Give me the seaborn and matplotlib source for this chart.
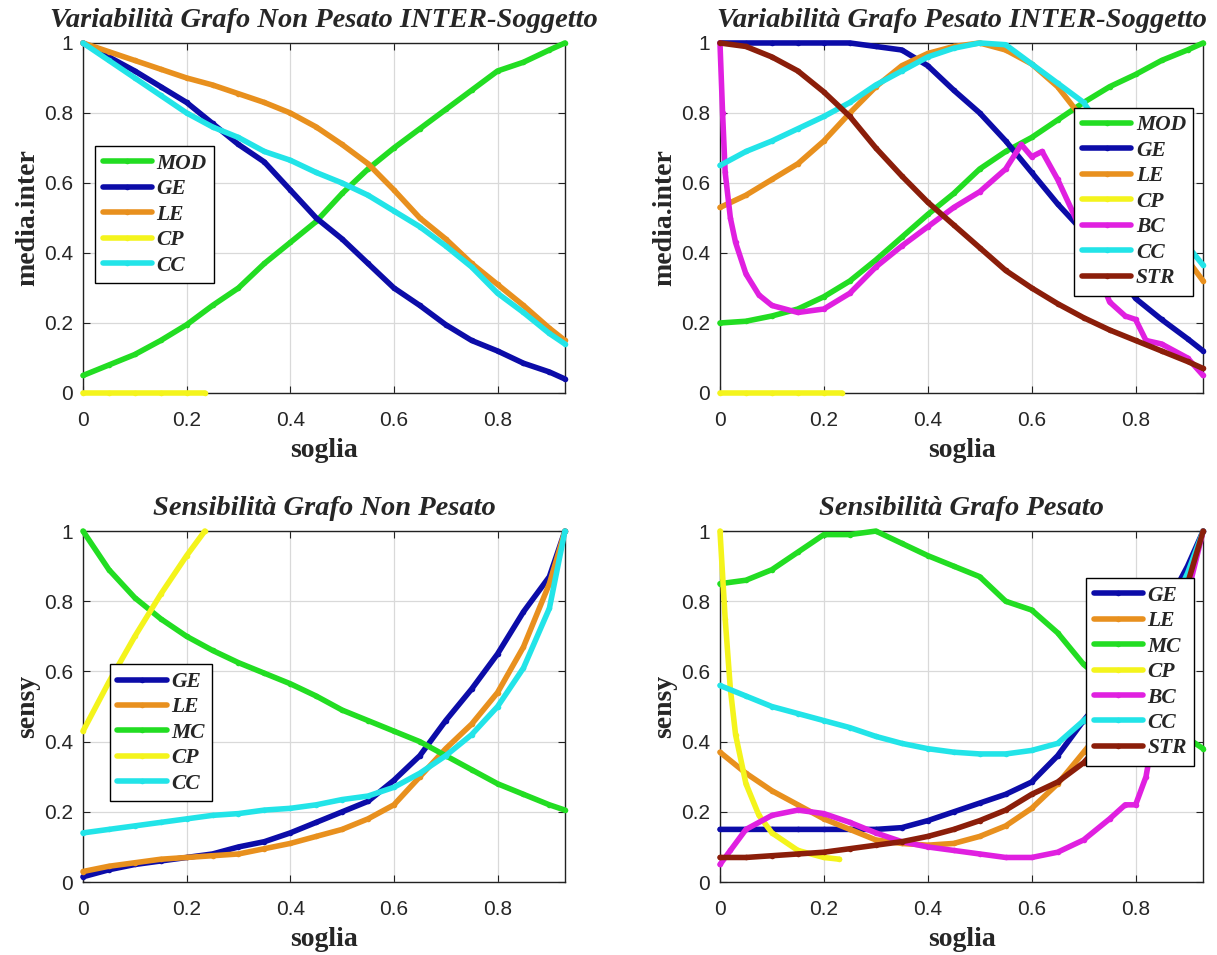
import numpy as np
import pandas as pd
import matplotlib
matplotlib.use("Agg")
import matplotlib.pyplot as plt
import seaborn as sns
from matplotlib.ticker import FuncFormatter

# ---------------- data ----------------
X = [0, .05, .1, .15, .2, .25, .3, .35, .4, .45, .5, .55, .6, .65, .7, .75, .8, .85, .9, .93]
CP_X = [0, .05, .1, .15, .2, .235]

# Top-left: Variabilità Grafo Non Pesato INTER-Soggetto
tl_mod = [0.05, 0.08, 0.11, 0.15, 0.195, 0.25, 0.30, 0.37, 0.43, 0.49, 0.57, 0.64, 0.70, 0.755, 0.81, 0.865, 0.92, 0.945, 0.98, 1.0]
tl_ge = [1.0, 0.96, 0.92, 0.875, 0.83, 0.77, 0.71, 0.66, 0.58, 0.50, 0.44, 0.37, 0.30, 0.25, 0.195, 0.15, 0.12, 0.085, 0.06, 0.04]
tl_le = [1.0, 0.975, 0.95, 0.925, 0.90, 0.88, 0.855, 0.83, 0.80, 0.76, 0.71, 0.655, 0.58, 0.50, 0.44, 0.37, 0.31, 0.25, 0.185, 0.15]
tl_cp = [0, 0, 0, 0, 0, 0]
tl_cc = [1.0, 0.95, 0.90, 0.85, 0.80, 0.76, 0.73, 0.69, 0.665, 0.63, 0.60, 0.565, 0.52, 0.475, 0.42, 0.36, 0.285, 0.23, 0.17, 0.14]

# Top-right: Variabilità Grafo Pesato INTER-Soggetto
tr_mod = [0.2, 0.205, 0.22, 0.24, 0.275, 0.32, 0.38, 0.445, 0.51, 0.57, 0.64, 0.69, 0.73, 0.78, 0.83, 0.875, 0.91, 0.95, 0.98, 1.0]
tr_ge = [1.0, 1.0, 1.0, 1.0, 1.0, 1.0, 0.99, 0.98, 0.935, 0.865, 0.80, 0.72, 0.63, 0.54, 0.46, 0.38, 0.27, 0.21, 0.155, 0.12]
tr_le = [0.53, 0.565, 0.61, 0.655, 0.72, 0.80, 0.875, 0.935, 0.97, 0.99, 1.0, 0.98, 0.94, 0.875, 0.78, 0.68, 0.58, 0.49, 0.38, 0.32]
tr_cp = [0, 0, 0, 0, 0, 0]
BC_TR_X = [0, .005, .01, .02, .03, .05, .075, .1, .15, .2, .25, .3, .35, .4, .45, .5, .55, .58, .6, .62, .65, .7, .75, .78, .8, .82, .85, .9, .93]
tr_bc = [1.0, 0.8, 0.63, 0.5, 0.43, 0.34, 0.28, 0.25, 0.23, 0.24, 0.285, 0.36, 0.42, 0.475, 0.53, 0.575, 0.64, 0.71, 0.675, 0.69, 0.61, 0.45, 0.26, 0.22, 0.21, 0.15, 0.14, 0.10, 0.05]
tr_cc = [0.65, 0.69, 0.72, 0.755, 0.79, 0.83, 0.88, 0.92, 0.96, 0.985, 1.0, 0.995, 0.94, 0.885, 0.83, 0.72, 0.62, 0.52, 0.42, 0.365]
tr_str = [1.0, 0.99, 0.96, 0.92, 0.86, 0.79, 0.70, 0.62, 0.545, 0.48, 0.415, 0.35, 0.30, 0.255, 0.215, 0.18, 0.15, 0.12, 0.09, 0.07]

# Bottom-left: Sensibilità Grafo Non Pesato
bl_ge = [0.015, 0.035, 0.05, 0.06, 0.07, 0.08, 0.10, 0.115, 0.14, 0.17, 0.20, 0.23, 0.29, 0.36, 0.46, 0.55, 0.65, 0.77, 0.87, 1.0]
bl_le = [0.03, 0.045, 0.055, 0.065, 0.07, 0.075, 0.08, 0.095, 0.11, 0.13, 0.15, 0.18, 0.22, 0.30, 0.38, 0.45, 0.54, 0.67, 0.85, 1.0]
bl_mc = [1.0, 0.89, 0.81, 0.75, 0.70, 0.66, 0.625, 0.595, 0.565, 0.53, 0.49, 0.46, 0.43, 0.40, 0.36, 0.32, 0.28, 0.25, 0.22, 0.205]
bl_cp = [0.43, 0.57, 0.70, 0.82, 0.93, 1.0]
bl_cc = [0.14, 0.15, 0.16, 0.17, 0.18, 0.19, 0.195, 0.205, 0.21, 0.22, 0.235, 0.245, 0.27, 0.31, 0.36, 0.42, 0.50, 0.61, 0.78, 1.0]

# Bottom-right: Sensibilità Grafo Pesato
br_ge = [0.15, 0.15, 0.15, 0.15, 0.15, 0.15, 0.15, 0.155, 0.175, 0.20, 0.225, 0.25, 0.285, 0.36, 0.46, 0.55, 0.65, 0.76, 0.9, 1.0]
br_le = [0.37, 0.31, 0.26, 0.22, 0.18, 0.15, 0.12, 0.11, 0.105, 0.11, 0.13, 0.16, 0.21, 0.28, 0.37, 0.46, 0.56, 0.68, 0.85, 1.0]
br_mc = [0.85, 0.86, 0.89, 0.94, 0.99, 0.99, 1.0, 0.965, 0.93, 0.90, 0.87, 0.80, 0.775, 0.71, 0.62, 0.56, 0.5, 0.45, 0.41, 0.38]
CP_BR_X = [0, .01, .02, .03, .05, .075, .1, .15, .2, .23]
br_cp = [1.0, 0.75, 0.55, 0.42, 0.28, 0.19, 0.14, 0.09, 0.07, 0.065]
BC_BR_X = [0, .02, .05, .1, .15, .2, .25, .3, .35, .4, .45, .5, .55, .6, .65, .7, .75, .78, .8, .82, .85, .9, .93]
br_bc = [0.05, 0.09, 0.15, 0.19, 0.205, 0.195, 0.17, 0.14, 0.115, 0.10, 0.09, 0.08, 0.07, 0.07, 0.085, 0.12, 0.18, 0.22, 0.22, 0.30, 0.55, 0.82, 1.0]
br_cc = [0.56, 0.53, 0.50, 0.48, 0.46, 0.44, 0.415, 0.395, 0.38, 0.37, 0.365, 0.365, 0.375, 0.395, 0.46, 0.52, 0.6, 0.72, 0.88, 1.0]
br_str = [0.07, 0.07, 0.075, 0.08, 0.085, 0.095, 0.105, 0.115, 0.13, 0.15, 0.175, 0.205, 0.25, 0.285, 0.34, 0.42, 0.52, 0.65, 0.85, 1.0]

TICKS = [0, 0.2, 0.4, 0.6, 0.8, 1]

COLORS = {
    "MOD": "#22dd22", "MC": "#22dd22", "GE": "#0c0ca8", "LE": "#e8901e",
    "CP": "#f4f41c", "BC": "#e020e0", "CC": "#22e4e8", "STR": "#8b1e0a",
}

# ---------------- style ----------------
sns.set_style("ticks")
plt.rcParams["font.family"] = ["Liberation Sans", "DejaVu Sans"]
SERIF = ["Liberation Serif", "DejaVu Serif"]

fig = plt.figure(figsize=(12.17, 9.55), dpi=100)

panels = [
    dict(pos=[0.0682, 0.5885, 0.396, 0.3665],
         title="Variabilità Grafo Non Pesato INTER-Soggetto", ylabel="media.inter",
         series=[("MOD", X, tl_mod), ("GE", X, tl_ge), ("LE", X, tl_le), ("CP", CP_X, tl_cp), ("CC", X, tl_cc)],
         leg=dict(loc="upper left", bbox_to_anchor=(0.025, 0.705))),
    dict(pos=[0.5916, 0.5885, 0.397, 0.3665],
         title="Variabilità Grafo Pesato INTER-Soggetto", ylabel="media.inter",
         series=[("MOD", X, tr_mod), ("GE", X, tr_ge), ("LE", X, tr_le), ("CP", CP_X, tr_cp),
                 ("BC", BC_TR_X, tr_bc), ("CC", X, tr_cc), ("STR", X, tr_str)],
         leg=dict(loc="upper right", bbox_to_anchor=(0.98, 0.815))),
    dict(pos=[0.0682, 0.0764, 0.396, 0.3675],
         title="Sensibilità Grafo Non Pesato", ylabel="sensy",
         series=[("GE", X, bl_ge), ("LE", X, bl_le), ("MC", X, bl_mc), ("CP", CP_X, bl_cp), ("CC", X, bl_cc)],
         leg=dict(loc="upper left", bbox_to_anchor=(0.055, 0.62))),
    dict(pos=[0.5916, 0.0764, 0.397, 0.3675],
         title="Sensibilità Grafo Pesato", ylabel="sensy",
         series=[("GE", X, br_ge), ("LE", X, br_le), ("MC", X, br_mc), ("CP", CP_BR_X, br_cp),
                 ("BC", BC_BR_X, br_bc), ("CC", X, br_cc), ("STR", X, br_str)],
         leg=dict(loc="upper right", bbox_to_anchor=(0.982, 0.866))),
]

fmt = FuncFormatter(lambda v, p: "%g" % round(v, 3))

for p in panels:
    ax = fig.add_axes(p["pos"])
    for name, xs, ys in p["series"]:
        df = pd.DataFrame({"soglia": xs, "val": ys})
        sns.lineplot(data=df, x="soglia", y="val", ax=ax, color=COLORS[name], label=name,
                     linewidth=4.0, marker="o", markersize=4.0, markeredgewidth=0,
                     estimator=None, sort=False, clip_on=False, zorder=3)
    ax.set_xlim(0, 0.93)
    ax.set_ylim(0, 1)
    ax.set_xticks(TICKS[:-1])
    ax.set_yticks(TICKS)
    ax.xaxis.set_major_formatter(fmt)
    ax.yaxis.set_major_formatter(fmt)
    ax.grid(True, color="#d9d9d9", linewidth=0.9)
    ax.set_axisbelow(True)
    ax.tick_params(direction="in", top=True, right=True, length=5, width=0.8,
                   labelsize=15, colors="#222222", labelcolor="#262626")
    ax.tick_params(axis="x", pad=13)
    ax.tick_params(axis="y", pad=7)
    for s in ax.spines.values():
        s.set_visible(True)
        s.set_color("#222222")
        s.set_linewidth(1.0)
        s.set_zorder(2.5)
    ax.set_title(p["title"], family=SERIF, style="italic", weight="bold", fontsize=20.5, pad=11.5)
    ax.set_xlabel("soglia", family=SERIF, weight="bold", fontsize=20, labelpad=6)
    ax.set_ylabel(p["ylabel"], family=SERIF, weight="bold", fontsize=20, labelpad=3)
    leg = ax.legend(**p["leg"], prop=dict(family=SERIF, style="italic", weight="bold", size=15.5),
                    frameon=True, fancybox=False, framealpha=1, edgecolor="black",
                    handlelength=2.3, handletextpad=0.2, labelspacing=0.25, borderpad=0.35,
                    borderaxespad=0)
    leg.get_frame().set_linewidth(1.0)
    leg.set_zorder(5)

fig.savefig("out.png", dpi=100, facecolor="white")
